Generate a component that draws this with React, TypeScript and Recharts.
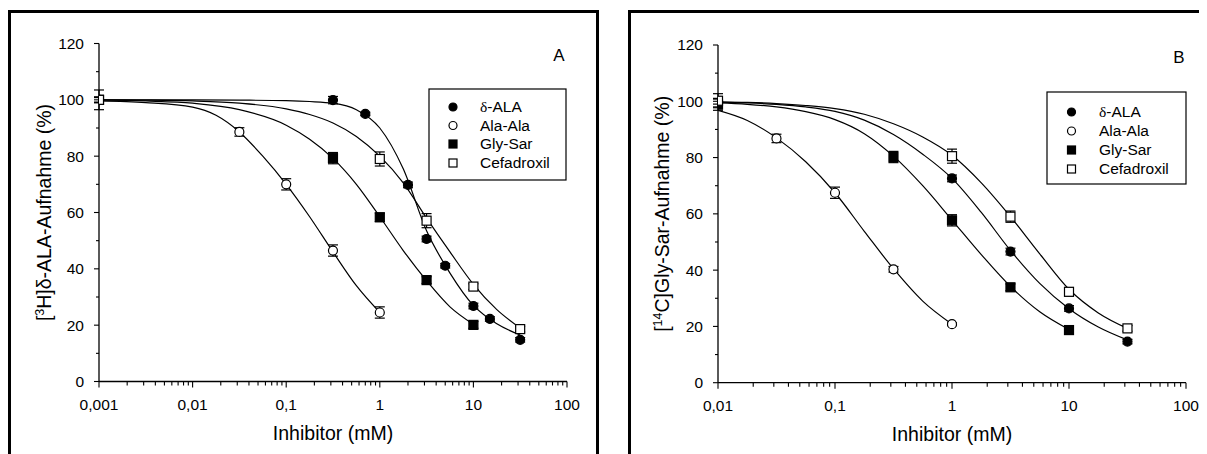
import React from "react"
import { ComposedChart, Line, Scatter, XAxis, YAxis, ErrorBar } from "recharts"

const FONT = '"Liberation Sans", Arial, Helvetica, sans-serif'

const seriesNames = ["δ-ALA", "Ala-Ala", "Gly-Sar", "Cefadroxil"]
const markerKinds = ["filledCircle", "openCircle", "filledSquare", "openSquare"]

const xTicksA = [0.001, 0.01, 0.1, 1, 10, 100]
const xTicksB = [0.01, 0.1, 1, 10, 100]
const yTicks = [0, 20, 40, 60, 80, 100, 120]
const yMinorTicks = [10, 30, 50, 70, 90, 110]

// ---- panel A: measured points (mM, % uptake, +/- error)
const deltaAx = [0.001, 0.316, 0.7, 2, 3.16, 5, 10, 15, 31.6]
const deltaAy = [100, 99.9, 95, 69.8, 50.6, 41.1, 26.8, 22.2, 14.8]
const deltaAe = [0.8, 1.3, 0.6, 1, 1, 0.8, 1, 0.8, 0.8]

const alaAx = [0.001, 0.0316, 0.1, 0.316, 1]
const alaAy = [100, 88.6, 70, 46.5, 24.5]
const alaAe = [3.5, 1.5, 2, 2, 2]

const glyAx = [0.001, 0.316, 1, 3.16, 10]
const glyAy = [100, 79.3, 58.3, 36, 20.1]
const glyAe = [1, 2, 1.5, 1.2, 1.2]

const cefAx = [0.001, 1, 3.16, 10, 31.6]
const cefAy = [100, 79, 57.1, 33.7, 18.6]
const cefAe = [1, 2.5, 2.5, 1, 1]

// ---- panel A: fitted curves
const fitAx = [0.001, 0.00316, 0.01, 0.0316, 0.1, 0.178, 0.316, 0.562, 1, 1.78, 3.16, 5.62, 10, 17.8, 31.6]
const deltaFitA = [100, 100, 100, 99.9, 99.7, 99.4, 98.8, 96.5, 90, 75.5, 53.5, 38.5, 27, 20.5, 16.5]
const cefFitA = [100, 99.9, 99.6, 98.8, 96.8, 94.8, 91.8, 87, 80, 70.5, 58, 46, 34.5, 25.5, 19]
const glyFitA = [100, 99.6, 98.8, 96.5, 91, 86, 79.2, 70, 58.5, 46.5, 35.8, 26.5, 20.3]
const alaFitAx = [0.001, 0.00316, 0.01, 0.0178, 0.0316, 0.0562, 0.1, 0.178, 0.316, 0.562, 1]
const alaFitA = [99.6, 99, 97.4, 94.5, 88.6, 80, 70, 58.5, 46, 34, 24.5]

// ---- panel B: measured points
const deltaBx = [0.01, 1, 3.16, 10, 31.6]
const deltaBy = [99.5, 72.6, 46.6, 26.4, 14.6]
const deltaBe = [1.5, 1.2, 1.2, 1, 0.8]

const alaBx = [0.01, 0.0316, 0.1, 0.316, 1]
const alaBy = [100, 86.8, 67.5, 40.3, 20.8]
const alaBe = [1, 1.5, 2, 1, 0.5]

const glyBx = [0.01, 0.316, 1, 3.16, 10]
const glyBy = [98.8, 80.2, 57.7, 33.9, 18.7]
const glyBe = [2, 2, 2, 1.2, 1.2]

const cefBx = [0.01, 1, 3.16, 10, 31.6]
const cefBy = [100.2, 80.5, 59, 32.3, 19.3]
const cefBe = [2.5, 2.5, 2, 1.5, 1]

// ---- panel B: fitted curves
const fitBx = [0.01, 0.0178, 0.0316, 0.0562, 0.1, 0.178, 0.316, 0.562, 1, 1.78, 3.16, 5.62, 10, 17.8, 31.6]
const deltaFitB = [99.7, 99.4, 98.9, 98, 96.4, 93.3, 88.2, 81.2, 72.6, 60.5, 47, 35.3, 26.3, 19.8, 15.2]
const cefFitB = [99.8, 99.6, 99.2, 98.5, 97.4, 95.4, 92, 87.3, 80.8, 71, 59, 45.8, 33.2, 24.8, 19.3]
const glyFitB = [99.4, 98.9, 98, 96.3, 93.5, 88.5, 80.5, 70, 57.8, 45.5, 34.2, 25.2, 18.9]
const alaFitB = [96.8, 93.2, 87, 78.5, 67.5, 53.8, 40.5, 29, 20.8]

const pts = (xs: number[], ys: number[], es: number[]) => ys.map((y, i) => ({ x: xs[i], y, e: es[i] }))
const curve = (xs: number[], ys: number[]) => ys.map((y, i) => ({ x: xs[i], y }))

const minorOf = (majors: number[]) => {
  const out: number[] = []
  majors.slice(0, -1).forEach((m) => {
    for (let k = 2; k <= 9; k++) out.push(+(m * k).toPrecision(3))
  })
  return out
}

const fmt = (v: number) => String(v).replace(".", ",")

function Marker({ cx, cy, kind, s }: any) {
  if (cx == null || cy == null) return <g />
  const fill = kind.startsWith("filled") ? "#000" : "#fff"
  if (kind.endsWith("Circle")) return <circle cx={cx} cy={cy} r={s} fill={fill} stroke="#000" strokeWidth={1.2} />
  return <rect x={cx - s} y={cy - s} width={2 * s} height={2 * s} fill={fill} stroke="#000" strokeWidth={1.2} />
}

function makeXTick(majors: number[]) {
  return (props: any) => {
    const { x, y, payload } = props
    const major = majors.includes(payload.value)
    return (
      <g>
        <line x1={x} x2={x} y1={y} y2={y + (major ? 6 : 4)} stroke="#000" strokeWidth={1.1} />
        {major && (
          <text x={x} y={y + 28.5} textAnchor="middle" fontSize={15.5} fontFamily={FONT} fill="#000">
            {fmt(payload.value)}
          </text>
        )}
      </g>
    )
  }
}

function YTick(props: any) {
  const { x, y, payload } = props
  const major = yTicks.includes(payload.value)
  return (
    <g>
      <line x1={x} x2={x - (major ? 5 : 3)} y1={y} y2={y} stroke="#000" strokeWidth={1.1} />
      {major && (
        <text x={x - 15} y={y} dy="0.35em" textAnchor="end" fontSize={15.5} fontFamily={FONT} fill="#000">
          {payload.value}
        </text>
      )}
    </g>
  )
}

const xTitle = (props: any) => {
  const vb = props.viewBox
  return (
    <text x={vb.x + vb.width / 2} y={vb.y + 58.5} textAnchor="middle" fontSize={19.5} fontFamily={FONT} fill="#000">
      Inhibitor (mM)
    </text>
  )
}

const yTitle = (sup: string, rest: string, off: number) => (props: any) => {
  const vb = props.viewBox
  const cx = vb.x + vb.width - off
  const cy = vb.y + vb.height / 2
  return (
    <text
      x={cx}
      y={cy}
      dy="0.35em"
      transform={`rotate(-90 ${cx} ${cy})`}
      textAnchor="middle"
      fontSize={19.5}
      fontFamily={FONT}
      fill="#000"
    >
      [<tspan dy={-7} fontSize={12.5}>{sup}</tspan>
      <tspan dy={7}>{rest}</tspan>
    </text>
  )
}

type PanelProps = {
  width: number
  margin: any
  majors: number[]
  curves: { x: number; y: number }[][]
  points: { x: number; y: number; e: number }[][]
  title: (p: any) => any
}

function Panel({ width, margin, majors, curves, points, title }: PanelProps) {
  const ticks = [...majors, ...minorOf(majors)].sort((a, b) => a - b)
  const XTick = makeXTick(majors)
  return (
    <ComposedChart width={width} height={440} margin={margin}>
      <XAxis
        type="number"
        dataKey="x"
        scale="log"
        domain={[majors[0], majors[majors.length - 1]]}
        allowDataOverflow
        ticks={ticks}
        interval={0}
        tickSize={0}
        tickMargin={0}
        tickLine={false}
        tick={XTick}
        axisLine={{ stroke: "#000", strokeWidth: 1.3 }}
        height={40}
        label={xTitle}
      />
      <YAxis
        type="number"
        domain={[0, 120]}
        allowDataOverflow
        ticks={[...yTicks, ...yMinorTicks].sort((a, b) => a - b)}
        interval={0}
        tickSize={0}
        tickMargin={0}
        tickLine={false}
        tick={YTick}
        axisLine={{ stroke: "#000", strokeWidth: 1.3 }}
        width={60}
        label={title}
      />
      {curves.map((c, i) => (
        <Line
          key={"c" + i}
          data={c}
          dataKey="y"
          type="monotone"
          stroke="#000"
          strokeWidth={1.2}
          dot={false}
          activeDot={false}
          isAnimationActive={false}
        />
      ))}
      {points.map((p, i) => (
        <Scatter
          key={"p" + i}
          name={seriesNames[i]}
          data={p}
          dataKey="y"
          isAnimationActive={false}
          shape={(sp: any) => <Marker cx={sp.cx} cy={sp.cy} kind={markerKinds[i]} s={4.5} />}
        >
          <ErrorBar dataKey="e" direction="y" width={5} stroke="#000" strokeWidth={1.2} />
        </Scatter>
      ))}
    </ComposedChart>
  )
}

function LegendBox({ left, top, w, h, rows, markX, textX }: any) {
  return (
    <g transform={`translate(${left} ${top})`}>
      <rect x={0} y={0} width={w} height={h} fill="#fff" stroke="#000" strokeWidth={1.2} />
      {seriesNames.map((name, i) => {
        const y = rows[i]
        return (
          <g key={name}>
            <Marker cx={markX} cy={y} kind={markerKinds[i]} s={4} />
            <text x={textX} y={y} dy="0.35em" fontSize={15.5} fontFamily={FONT} fill="#000">
              {name.startsWith("δ") ? (
                <>
                  <tspan fontFamily='"Liberation Serif", "Times New Roman", serif'>δ</tspan>
                  {name.slice(1)}
                </>
              ) : (
                name
              )}
            </text>
          </g>
        )
      })}
    </g>
  )
}

export default function App() {
  const curvesA = [
    curve(fitAx, deltaFitA),
    curve(alaFitAx, alaFitA),
    curve(fitAx, glyFitA),
    curve(fitAx, cefFitA),
  ]
  const pointsA = [
    pts(deltaAx, deltaAy, deltaAe),
    pts(alaAx, alaAy, alaAe),
    pts(glyAx, glyAy, glyAe),
    pts(cefAx, cefAy, cefAe),
  ]
  const curvesB = [
    curve(fitBx, deltaFitB),
    curve(fitBx, alaFitB),
    curve(fitBx, glyFitB),
    curve(fitBx, cefFitB),
  ]
  const pointsB = [
    pts(deltaBx, deltaBy, deltaBe),
    pts(alaBx, alaBy, alaBe),
    pts(glyBx, glyBy, glyBe),
    pts(cefBx, cefBy, cefBe),
  ]

  const frame = {
    position: "absolute" as const,
    top: 2,
    height: 470,
    boxSizing: "border-box" as const,
    border: "3px solid #000",
    borderBottom: "none",
  }

  return (
    <div style={{ position: "relative", width: 1199, height: 446, overflow: "hidden", fontFamily: FONT, background: "#fff" }}>
      <div style={{ ...frame, left: 0, width: 591 }} />
      <div style={{ ...frame, left: 620, width: 600 }} />

      <div style={{ position: "absolute", left: 0, top: 0 }}>
        <Panel
          width={591}
          margin={{ top: 35.5, right: 32, bottom: 26.5, left: 31 }}
          majors={xTicksA}
          curves={curvesA}
          points={pointsA}
          title={yTitle("3", "H]δ-ALA-Aufnahme (%)", 55)}
        />
      </div>
      <div style={{ position: "absolute", left: 620, top: 0 }}>
        <Panel
          width={579}
          margin={{ top: 37, right: 21, bottom: 25.3, left: 30 }}
          majors={xTicksB}
          curves={curvesB}
          points={pointsB}
          title={yTitle("14", "C]Gly-Sar-Aufnahme (%)", 56)}
        />
      </div>

      <svg width={1199} height={446} style={{ position: "absolute", left: 0, top: 0, pointerEvents: "none" }}>
        <text x={551} y={47} dy="0.35em" textAnchor="middle" fontSize={17} fontFamily={FONT} fill="#000">A</text>
        <text x={1171} y={49} dy="0.35em" textAnchor="middle" fontSize={17} fontFamily={FONT} fill="#000">B</text>
        <LegendBox left={421} top={81} w={137} h={91} rows={[18, 36.5, 55, 74]} markX={24} textX={51} />
        <LegendBox left={1039} top={84} w={139} h={92} rows={[20, 39, 58, 77]} markX={24.5} textX={52} />
      </svg>
    </div>
  )
}
